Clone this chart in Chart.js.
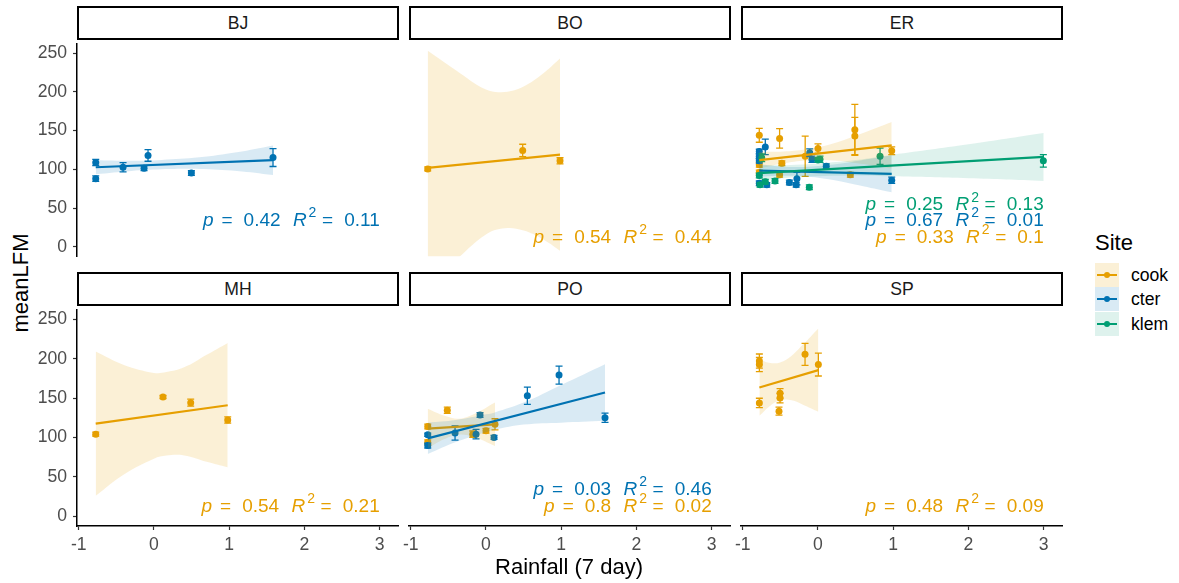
<!DOCTYPE html>
<html><head><meta charset="utf-8">
<script src="https://cdn.jsdelivr.net/npm/chart.js@4.4.1/dist/chart.umd.min.js"></script>
<style>
html,body{margin:0;padding:0;background:#fff;}
#wrap{position:relative;width:1179px;height:583px;overflow:hidden;font-family:"Liberation Sans",Arial,sans-serif;}
#wrap canvas{position:absolute;}
.strip{position:absolute;box-sizing:border-box;border:2px solid #000;background:#fff;font-size:17.6px;color:#1a1a1a;display:flex;align-items:center;justify-content:center;}
.title{position:absolute;font-size:22px;color:#000;white-space:nowrap;line-height:22px;}
.lkey{position:absolute;width:24px;height:24px;}
.lkey .ln{position:absolute;left:2px;top:11px;width:20px;height:2px;}
.lkey .dt{position:absolute;left:9px;top:9px;width:6px;height:6px;border-radius:50%;}
.llab{position:absolute;font-size:17.6px;line-height:24px;color:#000;}
</style></head>
<body><div id="wrap"></div>
<script>
// ---------- data ----------
const sites = ["cook", "cter", "klem"];
const panelNames = ["BJ", "BO", "ER", "MH", "PO", "SP"];
const xTicks = [-1, 0, 1, 2, 3];
const yTicks = [0, 50, 100, 150, 200, 250];

// BJ
const BJ_cter_x  = [-0.774, -0.774, -0.411, -0.132, -0.079, 0.497, 1.582];
const BJ_cter_y  = [109, 88, 102.7, 101.4, 118, 95.2, 115.2];
const BJ_cter_se = [4, 3.5, 6, 3, 7.5, 3, 11.5];
const BJ_cter_fit_x = [-0.774, 1.582];
const BJ_cter_fit_y = [102.7, 111.8];
const BJ_cter_band_x  = [-0.774, -0.3, 0.1, 0.6, 1.1, 1.582];
const BJ_cter_band_hi = [111.7, 111.0, 112.1, 115.5, 122.0, 130.8];
const BJ_cter_band_lo = [93.7, 98.0, 100.1, 100.5, 98.0, 92.8];
const BJ_cter_stat = ["0.42", "0.11"];

// BO
const BO_cook_x  = [-0.774, 0.488, 0.984];
const BO_cook_y  = [100.6, 124.4, 111];
const BO_cook_se = [2.5, 8, 4];
const BO_cook_fit_x = [-0.774, 0.984];
const BO_cook_fit_y = [101.8, 119];
const BO_cook_band_x  = [-0.774, -0.4, 0, 0.25, 0.5, 0.75, 0.984];
const BO_cook_band_hi = [253, 228, 203, 200, 207, 223, 243];
const BO_cook_band_lo = [-49, -17, 16, 24, 21, 10, -5];
const BO_cook_stat = ["0.54", "0.44"];

// ER
const ER_cook_x  = [-0.78, -0.51, -0.17, 0.0, 0.49, 0.49, 0.98, -0.48, -0.51, 0.43, -0.78, -0.78];
const ER_cook_y  = [144, 140, 117, 127, 151, 143, 124, 108, 93, 93, 106, 96];
const ER_cook_se = [9, 12.5, 26, 6, 33, 24, 5, 3, 3, 3, 3, 3];
const ER_cook_fit_x = [-0.78, 0.98];
const ER_cook_fit_y = [111.9, 131];
const ER_cook_band_x  = [-0.78, -0.5, -0.2, 0.2, 0.6, 0.98];
const ER_cook_band_hi = [122.9, 122.9, 125.2, 133.5, 146.9, 161.0];
const ER_cook_band_lo = [100.9, 106.9, 111.2, 111.5, 106.9, 101.0];
const ER_cook_stat = ["0.33", "0.1"];

const ER_cter_x  = [-0.70, -0.78, -0.78, -0.78, -0.11, -0.08, 0.11, -0.38, -0.28, -0.29, -0.68, 0.98, -0.78];
const ER_cter_y  = [129, 123, 117, 111, 121.5, 113, 104, 83, 88, 80, 80, 86, 82];
const ER_cter_se = [10, 3, 3, 3, 5, 4, 3, 3, 8, 3, 3, 4, 3];
const ER_cter_fit_x = [-0.78, 0.98];
const ER_cter_fit_y = [98.5, 94.3];
const ER_cter_band_x  = [-0.78, -0.5, -0.2, 0.2, 0.6, 0.98];
const ER_cter_band_hi = [106.5, 103.8, 103.1, 106.2, 112.2, 118.3];
const ER_cter_band_lo = [90.5, 91.8, 91.1, 86.2, 78.2, 70.3];
const ER_cter_stat = ["0.67", "0.01"];

const ER_klem_x  = [2.995, 0.825, 0.027, -0.115, -0.571, -0.77, -0.748, -0.70, -0.78, 0.0];
const ER_klem_y  = [111, 117, 113, 77, 85, 80, 115, 84, 92, 112];
const ER_klem_se = [8, 10.5, 4, 3, 3, 3, 5, 3, 3, 3];
const ER_klem_fit_x = [-0.78, 3.0];
const ER_klem_fit_y = [95.2, 116];
const ER_klem_band_x  = [-0.78, -0.3, 0.5, 1.0, 2.0, 3.0];
const ER_klem_band_hi = [105.2, 105.8, 112.2, 119, 132.4, 147];
const ER_klem_band_lo = [85.2, 89.8, 92.2, 91, 88.4, 85];
const ER_klem_stat = ["0.25", "0.13"];

// MH
const MH_cook_x  = [-0.774, 0.12, 0.488, 0.98];
const MH_cook_y  = [104.2, 151.3, 144.2, 122.1];
const MH_cook_se = [2.5, 2, 4.5, 4];
const MH_cook_fit_x = [-0.774, 0.98];
const MH_cook_fit_y = [117.5, 140.9];
const MH_cook_band_x  = [-0.774, -0.4, 0, 0.165, 0.4, 0.7, 0.98];
const MH_cook_band_hi = [209, 192, 182, 183, 189, 205, 220];
const MH_cook_band_lo = [26, 53, 73, 77, 77, 69, 62];
const MH_cook_stat = ["0.54", "0.21"];

// PO
const PO_cook_x  = [-0.774, -0.774, -0.514, -0.176, 0.0, 0.12];
const PO_cook_y  = [113.8, 93.8, 134.6, 104.2, 108.4, 116.7];
const PO_cook_se = [3, 3, 4, 4, 3, 7];
const PO_cook_fit_x = [-0.774, 0.12];
const PO_cook_fit_y = [111.3, 116.7];
const PO_cook_band_x  = [-0.774, -0.55, -0.353, -0.15, 0.12];
const PO_cook_band_hi = [136.3, 127.4, 123.8, 130.0, 144.3];
const PO_cook_band_lo = [86.3, 98.0, 103.8, 100.2, 89.1];
const PO_cook_stat = ["0.8", "0.02"];

const PO_cter_x  = [-0.774, -0.774, -0.411, -0.132, -0.079, 0.107, 0.55, 0.971, 1.582];
const PO_cter_y  = [103.4, 89.6, 105.5, 104.2, 128.4, 100, 153, 179.2, 125];
const PO_cter_se = [2, 3, 9, 6, 3, 2.5, 11, 11.5, 6];
const PO_cter_fit_x = [-0.774, 1.582];
const PO_cter_fit_y = [98.8, 157.1];
const PO_cter_band_x  = [-0.774, -0.4, 0, 0.116, 0.5, 1.0, 1.582];
const PO_cter_band_hi = [118.8, 122.1, 129.3, 131.8, 144.3, 166.7, 193.1];
const PO_cter_band_lo = [78.8, 94.1, 106.7, 109.8, 116.3, 118.7, 121.1];
const PO_cter_stat = ["0.03", "0.46"];

// SP
const SP_cook_x  = [-0.779, -0.779, -0.779, -0.518, -0.504, -0.504, -0.172, 0.005];
const SP_cook_y  = [197, 192.5, 143.8, 133.4, 156, 150, 205.5, 192.5];
const SP_cook_se = [9, 9, 6, 5, 6, 6, 14, 14.5];
const SP_cook_fit_x = [-0.779, 0.005];
const SP_cook_fit_y = [163.4, 185.5];
const SP_cook_band_x  = [-0.779, -0.65, -0.504, -0.35, -0.2, 0.005];
const SP_cook_band_hi = [199.4, 194.9, 195.2, 203.8, 217.9, 238.5];
const SP_cook_band_lo = [127.4, 139.1, 147.2, 147.2, 141.5, 132.5];
const SP_cook_stat = ["0.48", "0.09"];

// ---------- styles ----------
const siteColors = ["#E69F00", "#0072B2", "#009E73"];
const bandColors = ["rgba(230,159,0,0.16)", "rgba(0,114,178,0.15)", "rgba(0,158,115,0.13)"];
const FONT = '"Liberation Sans", Arial, sans-serif';

function S(site, x, y, se, fx, fy, bx, hi, lo, stat) {
  return {site, x, y, se, fx, fy, bx, hi, lo, stat};
}
const SERIES = {
  BJ: [S("cter", BJ_cter_x, BJ_cter_y, BJ_cter_se, BJ_cter_fit_x, BJ_cter_fit_y, BJ_cter_band_x, BJ_cter_band_hi, BJ_cter_band_lo, BJ_cter_stat)],
  BO: [S("cook", BO_cook_x, BO_cook_y, BO_cook_se, BO_cook_fit_x, BO_cook_fit_y, BO_cook_band_x, BO_cook_band_hi, BO_cook_band_lo, BO_cook_stat)],
  ER: [S("cook", ER_cook_x, ER_cook_y, ER_cook_se, ER_cook_fit_x, ER_cook_fit_y, ER_cook_band_x, ER_cook_band_hi, ER_cook_band_lo, ER_cook_stat),
       S("cter", ER_cter_x, ER_cter_y, ER_cter_se, ER_cter_fit_x, ER_cter_fit_y, ER_cter_band_x, ER_cter_band_hi, ER_cter_band_lo, ER_cter_stat),
       S("klem", ER_klem_x, ER_klem_y, ER_klem_se, ER_klem_fit_x, ER_klem_fit_y, ER_klem_band_x, ER_klem_band_hi, ER_klem_band_lo, ER_klem_stat)],
  MH: [S("cook", MH_cook_x, MH_cook_y, MH_cook_se, MH_cook_fit_x, MH_cook_fit_y, MH_cook_band_x, MH_cook_band_hi, MH_cook_band_lo, MH_cook_stat)],
  PO: [S("cook", PO_cook_x, PO_cook_y, PO_cook_se, PO_cook_fit_x, PO_cook_fit_y, PO_cook_band_x, PO_cook_band_hi, PO_cook_band_lo, PO_cook_stat),
       S("cter", PO_cter_x, PO_cter_y, PO_cter_se, PO_cter_fit_x, PO_cter_fit_y, PO_cter_band_x, PO_cter_band_hi, PO_cter_band_lo, PO_cter_stat)],
  SP: [S("cook", SP_cook_x, SP_cook_y, SP_cook_se, SP_cook_fit_x, SP_cook_fit_y, SP_cook_band_x, SP_cook_band_hi, SP_cook_band_lo, SP_cook_stat)]
};

// ---------- layout ----------
const colLeft = [77, 409, 741];
const rowTop = [40, 306];
const plotW = 321, plotH = 220, yAxW = 40, xAxH = 34;
const stripTop = [6, 272];
const statOffset = {cook: 4.2, cter: 21.3, klem: 36.6};

// error bars drawn just before each point dataset
const errPlugin = {
  id: 'errbars',
  beforeDatasetDraw(chart, args) {
    const ds = chart.data.datasets[args.index];
    if (!ds.se) return;
    const ctx = chart.ctx, xs = chart.scales.x, ys = chart.scales.y, a = chart.chartArea;
    ctx.save();
    ctx.beginPath(); ctx.rect(a.left, a.top, a.right - a.left, a.bottom - a.top); ctx.clip();
    ctx.strokeStyle = ds.errColor; ctx.lineWidth = 1.3;
    ds.data.forEach((p, i) => {
      const px = xs.getPixelForValue(p.x);
      const y1 = ys.getPixelForValue(p.y + ds.se[i]);
      const y2 = ys.getPixelForValue(p.y - ds.se[i]);
      ctx.beginPath();
      ctx.moveTo(px, y1); ctx.lineTo(px, y2);
      ctx.moveTo(px - 3.5, y1); ctx.lineTo(px + 3.5, y1);
      ctx.moveTo(px - 3.5, y2); ctx.lineTo(px + 3.5, y2);
      ctx.stroke();
    });
    ctx.restore();
  }
};

function drawStat(ctx, xRight, yBase, p, r2, color) {
  const fs = 19;
  const norm = fs + 'px ' + FONT, ital = 'italic ' + fs + 'px ' + FONT, sup = Math.round(fs * 0.72) + 'px ' + FONT;
  const parts = [
    {t: 'p', f: ital}, {g: 0.42}, {t: '=', f: norm}, {g: 0.58}, {t: p, f: norm}, {g: 0.65},
    {t: 'R', f: ital}, {g: 0.1}, {t: '2', f: sup, dy: -0.45 * fs}, {g: 0.3}, {t: '=', f: norm}, {g: 0.58}, {t: r2, f: norm}
  ];
  let w = 0;
  parts.forEach(q => { if (q.g !== undefined) w += q.g * fs; else { ctx.font = q.f; q.w = ctx.measureText(q.t).width; w += q.w; } });
  let x = xRight - w;
  ctx.save();
  ctx.fillStyle = color; ctx.textAlign = 'left'; ctx.textBaseline = 'alphabetic';
  parts.forEach(q => {
    if (q.g !== undefined) { x += q.g * fs; return; }
    ctx.font = q.f; ctx.fillText(q.t, x, yBase + (q.dy || 0)); x += q.w;
  });
  ctx.restore();
}

const statPlugin = {
  id: 'stats',
  afterDatasetsDraw(chart) {
    const list = chart.options.plugins.stats.list || [];
    const xs = chart.scales.x, ys = chart.scales.y;
    const xr = xs.getPixelForValue(3), y0 = ys.getPixelForValue(0);
    list.forEach(s => {
      const k = sites.indexOf(s.site);
      drawStat(chart.ctx, xr, y0 - statOffset[s.site], s.stat[0], s.stat[1], siteColors[k]);
    });
  }
};

function buildDatasets(list) {
  const ds = []; let seq = 0;
  const sorted = list.slice().sort((a, b) => sites.indexOf(a.site) - sites.indexOf(b.site));
  sorted.forEach(s => {
    const c = siteColors[sites.indexOf(s.site)];
    ds.push({type: 'scatter', data: s.x.map((v, i) => ({x: v, y: s.y[i]})), se: s.se, errColor: c,
      backgroundColor: c, borderColor: c, borderWidth: 0, pointRadius: 3.5, pointHoverRadius: 3.5, order: 1000 - (seq++)});
  });
  sorted.forEach(s => {
    const k = sites.indexOf(s.site);
    ds.push({type: 'line', data: s.bx.map((v, i) => ({x: v, y: s.hi[i]})), borderWidth: 0, borderColor: 'transparent',
      pointRadius: 0, fill: '+1', backgroundColor: bandColors[k], tension: 0.4, order: 1000 - (seq++)});
    ds.push({type: 'line', data: s.bx.map((v, i) => ({x: v, y: s.lo[i]})), borderWidth: 0, borderColor: 'transparent',
      pointRadius: 0, fill: false, tension: 0.4, order: 1000 - (seq++)});
    ds.push({type: 'line', data: s.fx.map((v, i) => ({x: v, y: s.fy[i]})), borderColor: siteColors[k], borderWidth: 2.2,
      pointRadius: 0, fill: false, tension: 0, order: 1000 - (seq++)});
  });
  return ds;
}

const wrap = document.getElementById('wrap');
Chart.defaults.font.family = FONT;

panelNames.forEach((name, idx) => {
  const col = idx % 3, row = Math.floor(idx / 3);
  const bottom = row === 1, left = col === 0;
  const cv = document.createElement('canvas');
  const cw = yAxW + plotW + 6, ch = plotH + (bottom ? xAxH : 0);
  cv.width = cw; cv.height = ch;
  cv.style.left = (colLeft[col] - yAxW) + 'px';
  cv.style.top = rowTop[row] + 'px';
  cv.style.width = cw + 'px'; cv.style.height = ch + 'px';
  wrap.appendChild(cv);

  new Chart(cv, {
    type: 'scatter',
    data: {datasets: buildDatasets(SERIES[name])},
    options: {
      responsive: false, animation: false, devicePixelRatio: 1, events: [],
      layout: {padding: {left: 0, right: 6, top: 0, bottom: 0}},
      plugins: {legend: {display: false}, tooltip: {enabled: false}, stats: {list: SERIES[name]}},
      scales: {
        x: {
          type: 'linear', min: -1.023, max: 3.243, display: bottom,
          afterBuildTicks: s => { s.ticks = xTicks.map(v => ({value: v})); },
          afterFit: s => { s.height = bottom ? xAxH : 0; s.paddingLeft = 0; s.paddingRight = 0; s.paddingTop = 0; s.paddingBottom = 0; },
          border: {display: true, color: '#000', width: 1.5},
          grid: {drawOnChartArea: false, drawTicks: true, tickLength: 4, color: '#333', tickWidth: 1.2},
          ticks: {color: '#4d4d4d', font: {size: 17.6, family: FONT}, padding: 5, maxRotation: 0, autoSkip: false,
                  callback: v => String(v)}
        },
        y: {
          type: 'linear', min: -12.5, max: 262.5, display: true,
          afterBuildTicks: s => { s.ticks = yTicks.map(v => ({value: v})); },
          afterFit: s => { s.width = yAxW; s.paddingTop = 0; s.paddingBottom = 0; s.paddingLeft = 0; s.paddingRight = 0; },
          border: {display: left, color: '#000', width: 1.5},
          grid: {display: left, drawOnChartArea: false, drawTicks: true, tickLength: 4, color: '#333', tickWidth: 1.2},
          ticks: {display: left, color: '#4d4d4d', font: {size: 17.6, family: FONT}, padding: 6, callback: v => String(v)}
        }
      }
    },
    plugins: [errPlugin, statPlugin]
  });

  const st = document.createElement('div');
  st.className = 'strip';
  st.style.left = colLeft[col] + 'px'; st.style.top = stripTop[row] + 'px';
  st.style.width = (plotW + 1) + 'px'; st.style.height = '34px';
  st.textContent = name;
  wrap.appendChild(st);
});

// axis titles
const xt = document.createElement('div');
xt.className = 'title'; xt.textContent = 'Rainfall (7 day)';
xt.style.left = '569px'; xt.style.top = '556px'; xt.style.transform = 'translateX(-50%)';
wrap.appendChild(xt);
const yt = document.createElement('div');
yt.className = 'title'; yt.textContent = 'meanLFM';
yt.style.left = '21px'; yt.style.top = '283px'; yt.style.transform = 'translate(-50%,-50%) rotate(-90deg)';
wrap.appendChild(yt);

// legend
const lt = document.createElement('div');
lt.className = 'title'; lt.textContent = 'Site';
lt.style.left = '1095px'; lt.style.top = '232px';
wrap.appendChild(lt);
sites.forEach((s, i) => {
  const top = 263 + i * 24.3;
  const k = document.createElement('div');
  k.className = 'lkey'; k.style.left = '1095px'; k.style.top = top + 'px'; k.style.background = bandColors[i];
  k.innerHTML = '<div class="ln" style="background:' + siteColors[i] + '"></div><div class="dt" style="background:' + siteColors[i] + '"></div>';
  wrap.appendChild(k);
  const l = document.createElement('div');
  l.className = 'llab'; l.textContent = s; l.style.left = '1131px'; l.style.top = top + 'px';
  wrap.appendChild(l);
});
</script>
</body></html>
